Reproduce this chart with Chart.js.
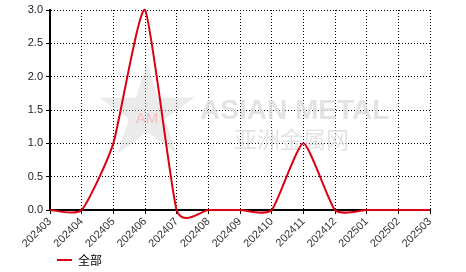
<!DOCTYPE html>
<html>
<head>
<meta charset="utf-8">
<script src="https://cdn.jsdelivr.net/npm/chart.js@4.4.1/dist/chart.umd.min.js"></script>
<style>
  html, body { margin: 0; padding: 0; background: #fff; }
</style>
</head>
<body>
<canvas id="myChart" width="466" height="272"></canvas>
<script>
// du lieu doc tu hinh
var months = ['202403', '202404', '202405', '202406', '202407', '202408', '202409',
              '202410', '202411', '202412', '202501', '202502', '202503'];
var allValues = [0, 0, 1.0, 3.0, 0, 0, 0, 0, 1.0, 0, 0, 0, 0];
var yTicks = [0, 0.5, 1.0, 1.5, 2.0, 2.5, 3.0];
var seriesName = '全部';

var lineColor = 'rgb(220, 0, 18)';
var fontFam = '"Liberation Sans", Arial, sans-serif';

// watermark (logo + chu)
const watermark = {
    id: 'watermark',
    beforeDatasetsDraw(chart) {
        const ctx = chart.ctx;
        ctx.save();
        // ngoi sao mo
        const cx = 147, cy = 113, R = 50, r = 19;
        ctx.beginPath();
        for (let i = 0; i < 10; i++) {
            const ang = -Math.PI / 2 + i * Math.PI / 5;
            const rad = i % 2 === 0 ? R : r;
            const px = cx + rad * Math.cos(ang), py = cy + rad * Math.sin(ang);
            if (i === 0) ctx.moveTo(px, py); else ctx.lineTo(px, py);
        }
        ctx.closePath();
        ctx.fillStyle = 'rgba(205, 205, 205, 0.4)';
        ctx.fill();
        ctx.fillStyle = 'rgba(255, 170, 170, 0.7)';
        ctx.font = '15px ' + fontFam;
        ctx.textAlign = 'center';
        ctx.textBaseline = 'middle';
        ctx.fillText('AM', cx, cy + 6);
        // chu ASIAN METAL
        ctx.fillStyle = 'rgba(220, 220, 220, 0.8)';
        ctx.font = 'bold 28px ' + fontFam;
        ctx.textAlign = 'left';
        ctx.fillText('ASIAN METAL', 200, 111);
        ctx.font = '23px "Noto Sans CJK SC", sans-serif';
        ctx.fillText('亚洲金属网', 234, 139);
        ctx.restore();
    }
};

// spline kieu cardinal (deu), dat lai diem dieu khien sau khi chart tinh toa do
const cardinal = {
    id: 'cardinal',
    afterLayout(chart) {
        // day chu thich sang phai va xuong duoi mot chut
        if (chart.legend) {
            chart.legend.left += 5; chart.legend.right += 5;
            chart.legend.top += 4; chart.legend.bottom += 4;
        }
    },
    beforeDatasetsDraw(chart) {
        chart.getSortedVisibleDatasetMetas().forEach(function (meta) {
            var pts = meta.data, k = 0.09;
            pts.forEach(function (p, i) {
                var prev = pts[i - 1] || p, next = pts[i + 1] || p;
                var dx = (next.x - prev.x) * k, dy = (next.y - prev.y) * k;
                p.cp1x = p.x - dx; p.cp1y = p.y - dy;
                p.cp2x = p.x + dx; p.cp2y = p.y + dy;
            });
            meta.dataset._pointsUpdated = true;
            meta.dataset._path = undefined;
        });
    }
};

var gridOpts = {
    color: '#000',
    lineWidth: 1,
    drawTicks: true,
    tickLength: 4,
    tickColor: '#000',
    tickBorderDash: []
};

new Chart(document.getElementById('myChart'), {
    type: 'line',
    data: {
        labels: months,
        datasets: [{
            label: seriesName,
            data: allValues,
            borderColor: lineColor,
            backgroundColor: lineColor,
            borderWidth: 2,
            pointStyle: 'line',
            pointRadius: 0,
            pointHoverRadius: 0,
            tension: 0.3,
            clip: false
        }]
    },
    options: {
        responsive: false,
        animation: false,
        devicePixelRatio: 1,
        layout: { padding: { top: 10, right: 36, left: 0, bottom: 0 } },
        elements: { line: { capBezierPoints: false } },
        scales: {
            x: {
                offset: false,
                afterFit: function (scale) { scale.height = 38; },
                grid: gridOpts,
                border: { display: true, color: '#000', width: 2, dash: [1, 2] },
                ticks: {
                    minRotation: 45,
                    maxRotation: 45,
                    autoSkip: false,
                    padding: 1,
                    color: '#333',
                    font: { family: fontFam, size: 11 }
                }
            },
            y: {
                min: 0,
                max: 3,
                afterFit: function (scale) { scale.width = 50; },
                afterBuildTicks: function (scale) {
                    scale.ticks = yTicks.map(function (v) { return { value: v }; });
                },
                grid: gridOpts,
                border: { display: true, color: '#000', width: 2, dash: [1, 2] },
                ticks: {
                    padding: 3,
                    color: '#1a1a2a',
                    font: { family: fontFam, size: 11 },
                    callback: function (v) { return Number(v).toFixed(1); }
                }
            }
        },
        plugins: {
            legend: {
                display: true,
                position: 'bottom',
                align: 'start',
                fullSize: false,
                labels: {
                    usePointStyle: true,
                    pointStyleWidth: 15,
                    boxHeight: 12,
                    padding: 2,
                    color: '#000',
                    font: { family: '"Noto Sans CJK SC", sans-serif', size: 12 }
                }
            },
            tooltip: { enabled: false }
        }
    },
    plugins: [watermark, cardinal]
});
</script>
</body>
</html>
